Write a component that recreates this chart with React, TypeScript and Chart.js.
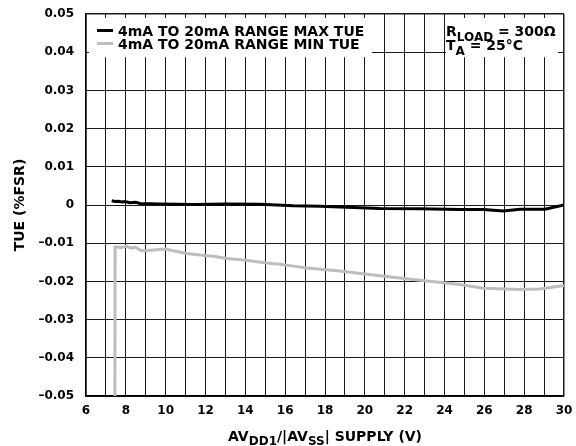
import React, { useEffect, useRef } from "react";
import { Chart, registerables } from "chart.js";

Chart.register(...registerables);

const maxX = [7.29, 7.45, 7.62, 7.8, 7.96, 8.21, 8.5, 8.71, 9.71, 11.39, 13.06, 14.73, 16.41, 17.75, 18.75, 20.76, 22.77, 24.78, 25.95, 26.95, 27.79, 29.04, 30];
const maxY = [0.0011, 0.0009, 0.001, 0.0008, 0.0009, 0.0006, 0.0007, 0.0004, 0.00026, 0.0001, 0.00026, 0.0002, -0.0002, -0.0003, -0.0005, -0.0009, -0.001, -0.0012, -0.0012, -0.0016, -0.0011, -0.0011, 0];

const minX = [7.45, 7.46, 7.6, 7.75, 8.04, 8.29, 8.46, 8.79, 9.38, 9.97, 10.39, 11.05, 11.72, 12.39, 13.06, 13.73, 14.4, 15.07, 15.74, 16.41, 17.08, 18.75, 20.76, 22.77, 24.78, 25.95, 27.79, 28.79, 30];
const minY = [-0.055, -0.011, -0.011, -0.0112, -0.0108, -0.0113, -0.011, -0.012, -0.0118, -0.0115, -0.012, -0.0127, -0.0131, -0.0134, -0.014, -0.0143, -0.0147, -0.0152, -0.0155, -0.016, -0.0165, -0.0173, -0.0185, -0.0197, -0.0208, -0.0218, -0.0221, -0.022, -0.0211];

const seriesLabels = ["4mA TO 20mA RANGE MAX TUE", "4mA TO 20mA RANGE MIN TUE"];
const seriesColors = ["#000000", "#bdbdbd"];
const xTickLabels = ["6", "8", "10", "12", "14", "16", "18", "20", "22", "24", "26", "28", "30"];

const FONT = '"DejaVu Sans", "Liberation Sans", Arial, sans-serif';

function fmtY(v: number): string {
  const r = Math.round(v * 100) / 100;
  if (Math.abs(r) < 1e-9) return "0";
  if (r < 0) return "\u2013" + Math.abs(r).toFixed(2);
  return r.toFixed(2);
}

function drawParts(ctx: CanvasRenderingContext2D, x: number, y: number, parts: [string, boolean][], size: number, subSize: number, subDy: number) {
  let cx = x;
  for (const [t, sub] of parts) {
    ctx.font = `bold ${sub ? subSize : size}px ${FONT}`;
    ctx.fillText(t, cx, sub ? y + subDy : y);
    cx += ctx.measureText(t).width;
  }
  return cx - x;
}
function measureParts(ctx: CanvasRenderingContext2D, parts: [string, boolean][], size: number, subSize: number) {
  let w = 0;
  for (const [t, sub] of parts) {
    ctx.font = `bold ${sub ? subSize : size}px ${FONT}`;
    w += ctx.measureText(t).width;
  }
  return w;
}

const overlay = {
  id: "overlay",
  beforeDatasetsDraw(chart: any) {
    const { ctx, scales } = chart;
    const x = scales.x, y = scales.y;
    const top = y.getPixelForValue(0.05);
    const y04 = y.getPixelForValue(0.04);
    ctx.save();
    ctx.fillStyle = "#fff";
    const lx0 = x.left + 3;
    const lx1 = x.getPixelForValue(20.35);
    ctx.fillRect(lx0, top + 4, lx1 - lx0, y04 + 5 - (top + 4));
    const rx0 = x.getPixelForValue(24) + 1.5;
    const rx1 = x.right - 6;
    ctx.fillRect(rx0, top + 4, rx1 - rx0, y04 + 5 - (top + 4));
    ctx.restore();
  },
  afterDraw(chart: any) {
    const { ctx, scales } = chart;
    const x = scales.x, y = scales.y;
    ctx.save();
    ctx.fillStyle = "#000";
    ctx.textBaseline = "alphabetic";
    ctx.textAlign = "left";
    const rows = [30.5, 43.5];
    for (let i = 0; i < 2; i++) {
      ctx.strokeStyle = seriesColors[i];
      ctx.lineWidth = 3;
      ctx.beginPath();
      ctx.moveTo(97, rows[i]);
      ctx.lineTo(113, rows[i]);
      ctx.stroke();
      ctx.font = `bold 14px ${FONT}`;
      ctx.fillText(seriesLabels[i], 118, rows[i] + 5);
    }
    drawParts(ctx, 446, 36, [["R", false], ["LOAD", true], [" = 300\u03A9", false]], 14, 12, 5);
    drawParts(ctx, 446, 50, [["T", false], ["A", true], [" = 25\u00B0C", false]], 14, 12, 5);
    const xt: [string, boolean][] = [["AV", false], ["DD1", true], ["/|AV", false], ["SS", true], ["| SUPPLY (V)", false]];
    const w = measureParts(ctx, xt, 14, 12);
    drawParts(ctx, (x.left + x.right) / 2 - w / 2, 441, xt, 14, 12, 4);
    ctx.translate(20, (y.top + y.bottom) / 2);
    ctx.rotate(-Math.PI / 2);
    ctx.textAlign = "center";
    ctx.textBaseline = "middle";
    ctx.font = `bold 14px ${FONT}`;
    ctx.fillText("TUE (%FSR)", 0, 0);
    ctx.restore();
  },
};

export default function App() {
  const ref = useRef<HTMLCanvasElement>(null);
  useEffect(() => {
    if (!ref.current) return;
    const chart = new Chart(ref.current, {
      type: "line",
      data: {
        datasets: [
          {
            label: seriesLabels[0],
            data: maxX.map((v, i) => ({ x: v, y: maxY[i] })),
            borderColor: seriesColors[0],
            borderWidth: 3,
            pointRadius: 0,
            tension: 0,
          },
          {
            label: seriesLabels[1],
            data: minX.map((v, i) => ({ x: v, y: minY[i] })),
            borderColor: seriesColors[1],
            borderWidth: 3,
            pointRadius: 0,
            tension: 0,
          },
        ],
      },
      options: {
        responsive: false,
        animation: false,
        layout: { padding: { left: 0, right: 12, top: 14, bottom: 0 } },
        plugins: { legend: { display: false }, tooltip: { enabled: false } },
        scales: {
          x: {
            type: "linear",
            min: 6,
            max: 30,
            afterFit: (s: any) => { s.height = 50; s.paddingLeft = 0; s.paddingRight = 0; },
            afterBuildTicks: (s: any) => {
              const t = [];
              for (let v = 6; v <= 30; v++) t.push({ value: v });
              s.ticks = t;
            },
            ticks: {
              autoSkip: false,
              maxRotation: 0,
              padding: 8,
              color: "#000",
              font: { family: FONT, size: 12, weight: "bold" },
              callback: (v: any) => {
                const s = String(Math.round(Number(v)));
                return xTickLabels.includes(s) && Number(v) % 2 === 0 ? s : "";
              },
            },
            grid: {
              color: "#1a1a1a",
              lineWidth: (c: any) => (c.tick && (c.tick.value === 30 || c.tick.value === 6) ? 1.5 : 1),
              drawTicks: false,
            },
            border: { color: "#000", width: 1.5 },
          },
          y: {
            type: "linear",
            min: -0.05,
            max: 0.05,
            afterFit: (s: any) => { s.width = 86; s.paddingTop = 0; s.paddingBottom = 0; },
            afterBuildTicks: (s: any) => {
              const t = [];
              for (let i = -5; i <= 5; i++) t.push({ value: i / 100 });
              s.ticks = t;
            },
            ticks: {
              padding: 12,
              color: "#000",
              font: { family: FONT, size: 12, weight: "bold" },
              callback: (v: any) => fmtY(Number(v)),
            },
            grid: {
              color: "#1a1a1a",
              lineWidth: (c: any) => (c.tick && Math.abs(c.tick.value - 0.05) < 1e-6 ? 1.5 : 1),
              drawTicks: false,
            },
            border: { color: "#000", width: 1.5 },
          },
        },
      },
      plugins: [overlay],
    });
    return () => chart.destroy();
  }, []);
  return (
    <div style={{ position: "absolute", left: 0, top: 0, width: 576, height: 446 }}>
      <canvas ref={ref} width={576} height={446} style={{ display: "block" }} />
    </div>
  );
}
